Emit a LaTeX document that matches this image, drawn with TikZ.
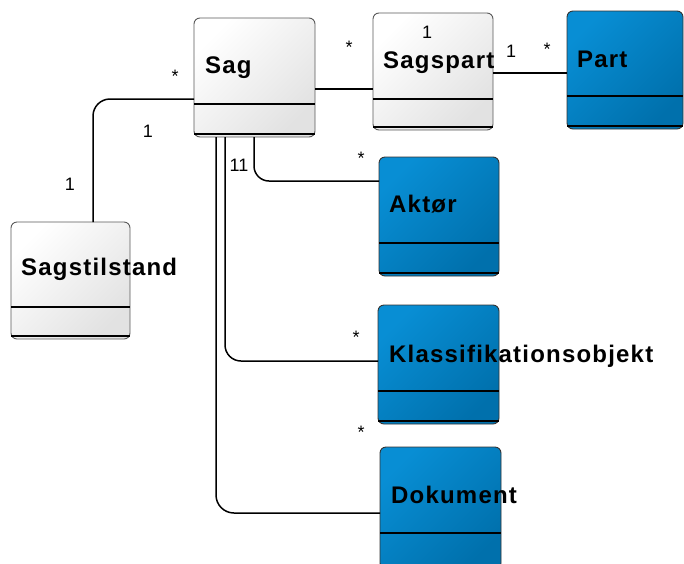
\documentclass[tikz,border=0pt]{standalone}
\usepackage{fontspec}
\setmainfont{Liberation Sans}
\newfontfamily\titlefont[LetterSpace=5]{Liberation Sans}
\usetikzlibrary{calc}

\definecolor{blueA}{RGB}{8,142,212}
\definecolor{blueB}{RGB}{0,112,172}
\definecolor{greyB}{RGB}{226,226,226}

\tikzset{
  classbox/.style={rectangle, rounded corners=6pt, line width=0.9pt,
    inner sep=0pt, outer sep=0pt, anchor=north west, minimum width=121pt},
  whitebox/.style={classbox, draw=black!65, top color=white, bottom color=greyB, shading angle=45},
  bluebox/.style={classbox, draw=black!80, top color=blueA, bottom color=blueB, shading angle=45},
  divider/.style={line width=1.6pt, black},
  title/.style={font=\titlefont\bfseries\fontsize{24}{27}\selectfont, inner sep=0pt, anchor=base west},
  mult/.style={font=\fontsize{18}{21}\selectfont, inner sep=0pt, anchor=base},
  conn/.style={line width=1.5pt, black},
}

% two separator lines of a class box, measured from its top edge
\newcommand{\classlines}[3]{%
  \draw[divider] ($(#1.north west)+(0,#2)$) -- ($(#1.north east)+(0,#2)$);
  \draw[divider] ($(#1.north west)+(0,#3)$) -- ($(#1.north east)+(0,#3)$);
}

\begin{document}
\begin{tikzpicture}[x=1pt,y=-1pt]
  \useasboundingbox (0,0) rectangle (684,563);
  \clip (0,0) rectangle (684,563);

  % class boxes
  \node[whitebox, minimum height=119pt] (sag) at (194,18) {};
  \node[whitebox, minimum width=120pt, minimum height=117pt] (sagspart) at (373,13) {};
  \node[bluebox, minimum width=116pt, minimum height=118pt] (part) at (567,11) {};
  \node[whitebox, minimum width=119pt, minimum height=117pt] (stil) at (11,222) {};
  \node[bluebox, minimum width=120pt, minimum height=119pt] (aktor) at (379,157) {};
  \node[bluebox, minimum height=119pt] (klass) at (378,305) {};
  \node[bluebox, minimum height=122pt] (dok) at (380,447) {};

  \classlines{sag}{86}{116}
  \classlines{sagspart}{86}{114}
  \classlines{part}{85}{115}
  \classlines{stil}{85}{114}
  \classlines{aktor}{86}{116}
  \classlines{klass}{86}{116}
  \classlines{dok}{86}{118}

  % class names
  \node[title] (sagT) at ($(sag.north west)+(11,55)$) {Sag};
  \node[title] (sagspartT) at ($(sagspart.north west)+(10,55)$) {Sagspart};
  \node[title] (partT) at ($(part.north west)+(10,56)$) {Part};
  \node[title] (stilT) at ($(stil.north west)+(10,53)$) {Sagstilstand};
  \node[title] (aktorT) at ($(aktor.north west)+(10,55)$) {Aktør};
  \node[title] (klassT) at ($(klass.north west)+(11,57)$) {Klassifikationsobjekt};
  \node[title] (dokT) at ($(dok.north west)+(11,56)$) {Dokument};

  % associations
  \coordinate (sagL) at ($(sag.north west)+(0,81)$);
  \draw[conn, rounded corners=17pt] (sagL) -| ($(stil.north west)+(82,0)$);
  \coordinate (sagR) at ($(sag.north east)+(0,71)$);
  \draw[conn] (sagR) -- (sagR -| sagspart.west);
  \coordinate (spR) at ($(sagspart.north east)+(0,60)$);
  \draw[conn] (spR) -- (spR -| part.west);
  \draw[conn, rounded corners=15pt] ($(sag.south west)+(60,0)$) |- ($(aktor.north west)+(0,24)$);
  \draw[conn, rounded corners=16pt] ($(sag.south west)+(31,0)$) |- ($(klass.north west)+(0,56)$);
  \draw[conn, rounded corners=18pt] ($(sag.south west)+(22,0)$) |- ($(dok.north west)+(0,66)$);

  % multiplicities
  \node[mult] (m1) at (175,82) {*};
  \node[mult] (m2) at (148,137) {1};
  \node[mult] (m3) at (70,190) {1};
  \node[mult] (m4) at (349,53) {*};
  \node[mult] (m5) at (427,38) {1};
  \node[mult] (m6) at (511,57) {1};
  \node[mult] (m7) at (547,55) {*};
  \node[mult] (m8) at (239,171) {11};
  \node[mult] (m9) at (361,164) {*};
  \node[mult] (m10) at (356,343) {*};
  \node[mult] (m11) at (361,438) {*};
\end{tikzpicture}
\end{document}
